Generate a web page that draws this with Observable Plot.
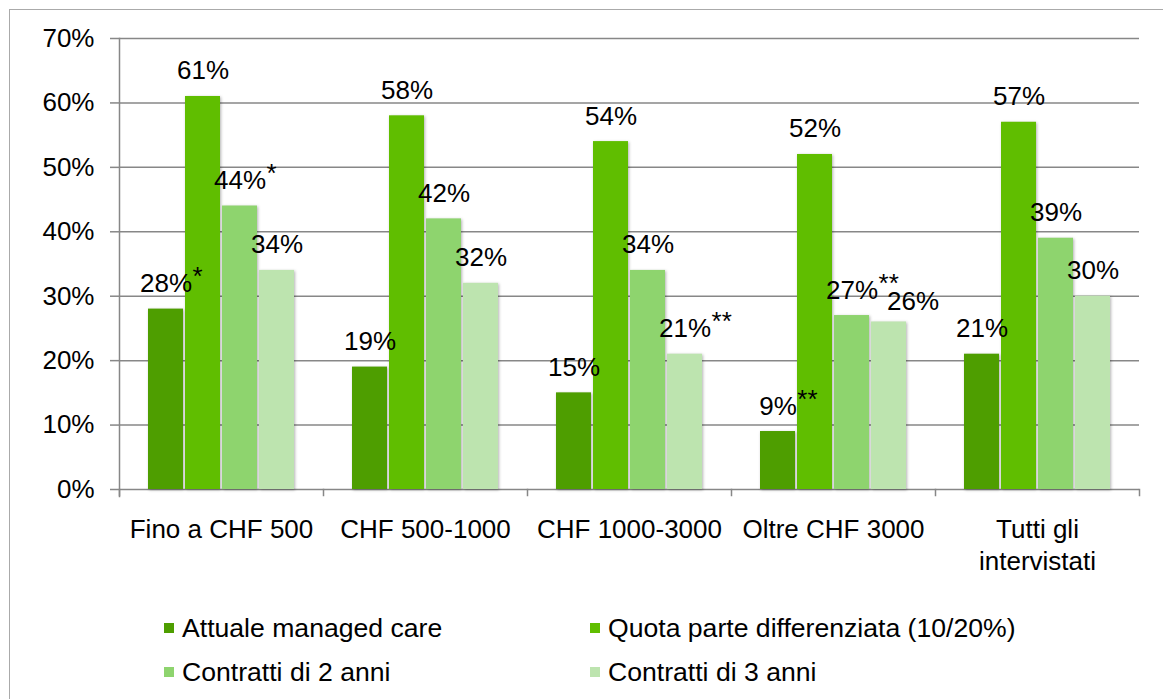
<!DOCTYPE html>
<html><head><meta charset="utf-8">
<script src="https://cdn.jsdelivr.net/npm/d3@7"></script>
<script src="https://cdn.jsdelivr.net/npm/@observablehq/plot@0.6"></script>
<style>
html,body{margin:0;padding:0;background:#fff;overflow:hidden;width:1163px;height:699px;}
body{position:relative;font-family:"Liberation Sans",Arial,sans-serif;}
#border{position:absolute;left:9px;top:9px;width:1300px;height:800px;border:1.5px solid #aaa;box-sizing:border-box;z-index:2;pointer-events:none;}
#chart{position:absolute;left:0;top:0;}
#legend{position:absolute;left:0;top:0;}
.item{position:absolute;display:flex;align-items:center;height:30px;font-size:26.6px;color:#000;white-space:nowrap;}
.sw{width:10px;height:10px;margin-right:8px;flex:none;}
g[aria-label="bar"] rect{filter:drop-shadow(1px 1px 1.5px rgba(0,0,0,0.3));}
</style></head><body>
<div id="border"></div><div id="chart"></div><div id="legend"></div>
<script>
const categories = ["Fino a CHF 500", "CHF 500-1000", "CHF 1000-3000", "Oltre CHF 3000", "Tutti gli\nintervistati"];
const series = ["Attuale managed care", "Quota parte differenziata (10/20%)", "Contratti di 2 anni", "Contratti di 3 anni"];
const attuale = [28, 19, 15, 9, 21];
const quota = [61, 58, 54, 52, 57];
const due = [44, 42, 34, 27, 39];
const tre = [34, 32, 21, 26, 30];
const notesAttuale = ["*", "", "", "**", ""];
const notesQuota = ["", "", "", "", ""];
const notesDue = ["*", "", "", "**", ""];
const notesTre = ["", "", "**", "", ""];
const yTicks = [0, 10, 20, 30, 40, 50, 60, 70];
const colors = ["#4E9E00", "#60BE00", "#8ED46E", "#BDE4AF"];

const valueSets = [attuale, quota, due, tre];
const noteSets = [notesAttuale, notesQuota, notesDue, notesTre];
const rows = [];
series.forEach((s, j) => categories.forEach((c, i) => rows.push({cat: c, series: s, value: valueSets[j][i], note: noteSets[j][i]})));

const FONT = "Liberation Sans, Arial, sans-serif";
const FS = 26;
const W = 1163, H = 590, mT = 38, mB = 101, mL = 117, mR = 22;
const plotH = H - mT - mB;
const gridColor = "#878787";

const ctx = document.createElement("canvas").getContext("2d");
ctx.font = `${FS}px "Liberation Sans", Arial, sans-serif`;
const halfW = t => ctx.measureText(t).width / 2;

const label = d => d.value + "%";
const isNudged = d => d.cat === "Oltre CHF 3000" && d.series === "Contratti di 3 anni";
const LABEL_DY = -17;

const noteMarks = rows.filter(d => d.note).map(d => Plot.text([d], {
  fx: "cat", x: "series", y: "value", text: "note",
  textAnchor: "start", lineAnchor: "bottom",
  dx: halfW(label(d)) + 0.5, dy: LABEL_DY - 7, fontSize: FS, fill: "black"
}));

const chart = Plot.plot({
  width: W, height: H,
  marginTop: mT, marginBottom: mB, marginLeft: mL, marginRight: mR,
  style: {fontFamily: FONT, fontSize: FS + "px", background: "transparent", color: "black"},
  fx: {domain: categories, paddingInner: 0, paddingOuter: 0, label: null},
  x: {domain: series, paddingInner: 0.06, paddingOuter: 0.74, axis: null},
  y: {domain: [0, 70], label: null},
  color: {domain: series, range: colors},
  marks: [
    Plot.gridY(yTicks, {stroke: gridColor, strokeOpacity: 1, strokeWidth: 1.5}),
    Plot.frame({anchor: "left", facetAnchor: "left", insetBottom: -7, stroke: gridColor, strokeWidth: 1.5}),
    Plot.frame({anchor: "left", insetTop: plotH, insetBottom: -6, stroke: gridColor, strokeWidth: 1.5}),
    Plot.frame({anchor: "right", facetAnchor: "right", insetTop: plotH, insetBottom: -6, stroke: gridColor, strokeWidth: 1.5}),
    Plot.axisY({ticks: yTicks, tickFormat: d => d + "%", tickSize: 9, tickPadding: 16, stroke: gridColor, strokeWidth: 1.5, fill: "black", fontSize: FS, label: null}),
    Plot.axisFx({anchor: "bottom", tickSize: 0, tickPadding: 25.5, fontSize: FS, lineHeight: 1.23, label: null, fill: "black"}),
    Plot.barY(rows, {fx: "cat", x: "series", y: "value", fill: "series"}),
    Plot.text(rows.filter(d => !isNudged(d)), {fx: "cat", x: "series", y: "value", text: label, lineAnchor: "bottom", dy: LABEL_DY, fontSize: FS, fill: "black"}),
    Plot.text(rows.filter(isNudged), {fx: "cat", x: "series", y: "value", text: label, lineAnchor: "bottom", dx: 24, dy: LABEL_DY + 5, fontSize: FS, fill: "black"}),
    ...noteMarks
  ]
});
document.getElementById("chart").appendChild(chart);

// legend (HTML, below the chart area)
const legend = document.getElementById("legend");
const legendPos = [[164, 613], [590, 613], [164, 657], [590, 657]];
series.forEach((s, j) => {
  const it = document.createElement("div");
  it.className = "item";
  it.style.left = legendPos[j][0] + "px";
  it.style.top = legendPos[j][1] + "px";
  const sw = document.createElement("span");
  sw.className = "sw";
  sw.style.background = colors[j];
  const tx = document.createElement("span");
  tx.textContent = s;
  it.appendChild(sw); it.appendChild(tx);
  legend.appendChild(it);
});
</script>
</body></html>
